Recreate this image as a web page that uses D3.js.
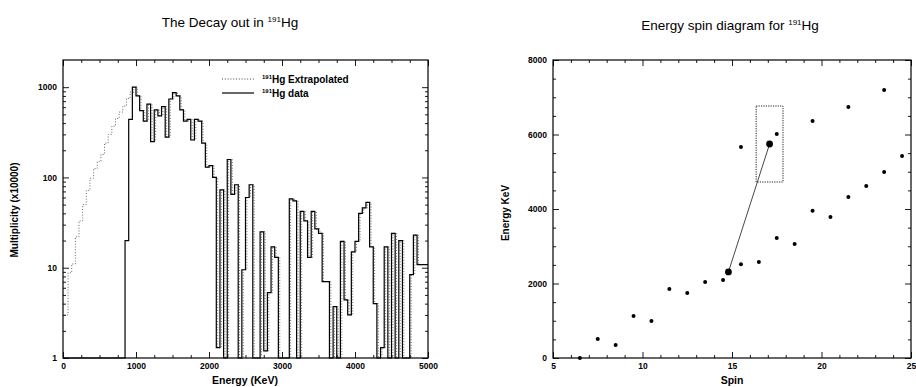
<!DOCTYPE html>
<html>
<head>
<meta charset="utf-8">
<script src="https://cdn.jsdelivr.net/npm/d3@7"></script>
<style>
  body { margin: 0; background: #fff; }
  svg { display: block; }
  .tick text { font-family: "Liberation Sans", Arial, sans-serif; font-size: 8.5px; font-weight: bold; fill: #000; }
  .tick line { stroke: #000; stroke-width: 0.9; }
  .title { font-family: "Liberation Sans", Arial, sans-serif; font-size: 13.5px; fill: #000; }
  .label { font-family: "Liberation Sans", Arial, sans-serif; font-size: 10px; font-weight: bold; fill: #000; }
</style>
</head>
<body>
<svg id="chart" width="916" height="387"></svg>
<script>
// ---- left panel data: decay-out histogram, 50 keV bins starting at 0 ----
const binWidth = 50;
const dataCounts = [
  0, 0, 0, 0, 0, 0, 0, 0, 0, 0, 0, 0, 0, 0, 0, 0, 0,
  20, 440, 1000, 800, 550, 420, 650, 250, 560, 480, 610, 280, 740,
  870, 800, 560, 420, 440, 260, 440, 420, 240, 130, 135, 100, 1.3,
  73, 1, 158, 65, 83, 1, 9.5, 60, 83, 1, 1, 25, 1.2, 5.3, 17, 13,
  1, 1, 1, 58, 55, 1, 42, 33, 13, 42, 27, 24, 7, 7, 1, 3.7, 1,
  19.6, 4.4, 3, 15, 19.6, 40, 46, 53, 17, 4, 1, 1.3, 17, 1, 24,
  1, 20, 1, 1, 8.4, 23, 10.8, 10.8, 10.8
];
// extrapolated part below 1000 keV (joins the data afterwards)
const extrapolatedLow = [
  3, 8.8, 11, 22, 33, 50, 72, 98, 125, 150, 180, 240, 300, 370, 450,
  530, 620, 750, 880
];
const multTicks = [1, 10, 100, 1000];
const energyTicks = [0, 1000, 2000, 3000, 4000, 5000];

// ---- right panel data: energy vs spin ----
const spins = [6.5, 7.5, 8.5, 9.5, 10.5, 11.5, 12.5, 13.5, 14.5, 15.5, 16.5, 17.5, 18.5,
  15.5, 17.5, 19.5, 21.5, 23.5, 19.5, 20.5, 21.5, 22.5, 23.5, 24.5];
const levelEnergies = [0, 510, 350, 1130, 990, 1850, 1745, 2040, 2095, 2520, 2580, 3220, 3060,
  5665, 6013, 6360, 6740, 7195, 3950, 3785, 4320, 4620, 4990, 5420];
const decaySpins = [14.8, 17.1];
const decayEnergies = [2310, 5745];
const boxSpins = [16.35, 17.85];
const boxEnergies = [4725, 6765];
const spinTicks = [5, 10, 15, 20, 25];
const keVTicks = [0, 2000, 4000, 6000, 8000];

const svg = d3.select('#chart');

function superTitle(g, x, y, pre, cls, size) {
  const t = g.append('text').attr('class', cls).attr('x', x).attr('y', y)
    .attr('text-anchor', 'middle');
  t.append('tspan').text(pre);
  t.append('tspan').attr('font-size', size).attr('dy', -5).text('191');
  t.append('tspan').attr('dy', 5).text('Hg');
  return t;
}

// ================= left panel =================
const xL = d3.scaleLinear().domain([0, 5000]).range([63, 428]);
const yL = d3.scaleLog().domain([1, 2000]).range([358, 60]);

const left = svg.append('g');
superTitle(left, 230, 27, 'The Decay out in ', 'title', 8);

// minor ticks
const minorLog = [];
for (let d = 1; d < 2000; d *= 10) for (let k = 2; k <= 9; k++) if (d * k < 2000) minorLog.push(d * k);
const minorE = d3.range(0, 5001, 250).filter(v => v % 1000 !== 0);

left.append('g').attr('transform', 'translate(0,358)')
  .call(d3.axisBottom(xL).tickValues(energyTicks).tickSize(-6).tickPadding(5).tickFormat(d3.format('d')));
left.append('g').attr('transform', 'translate(0,358)')
  .call(d3.axisBottom(xL).tickValues(minorE).tickSize(-3).tickFormat(''));
left.append('g').attr('transform', 'translate(0,60)')
  .call(d3.axisTop(xL).tickValues(energyTicks).tickSize(-6).tickFormat(''));
left.append('g').attr('transform', 'translate(0,60)')
  .call(d3.axisTop(xL).tickValues(minorE).tickSize(-3).tickFormat(''));
left.append('g').attr('transform', 'translate(63,0)')
  .call(d3.axisLeft(yL).tickValues(multTicks).tickSize(-6).tickPadding(6).tickFormat(d3.format('d')));
left.append('g').attr('transform', 'translate(63,0)')
  .call(d3.axisLeft(yL).tickValues(minorLog).tickSize(-3).tickFormat(''));
left.append('g').attr('transform', 'translate(428,0)')
  .call(d3.axisRight(yL).tickValues(multTicks).tickSize(-6).tickFormat(''));
left.append('g').attr('transform', 'translate(428,0)')
  .call(d3.axisRight(yL).tickValues(minorLog).tickSize(-3).tickFormat(''));
left.selectAll('.domain').remove();

left.append('rect').attr('x', 63).attr('y', 60).attr('width', 365).attr('height', 298)
  .attr('fill', 'none').attr('stroke', '#000').attr('stroke-width', 1.2);

function stepPoints(vals) {
  const pts = vals.map((v, i) => [i * binWidth, Math.max(v, 1)]);
  pts.push([vals.length * binWidth, Math.max(vals[vals.length - 1], 1)]);
  return pts;
}
const stepLine = d3.line()
  .x(d => xL(d[0])).y(d => yL(d[1]))
  .curve(d3.curveStepAfter);

const extrapolated = extrapolatedLow.concat(dataCounts.slice(extrapolatedLow.length));
left.append('path').attr('d', stepLine(stepPoints(extrapolated)))
  .attr('transform', 'translate(1.4,0)')
  .attr('fill', 'none').attr('stroke', '#666').attr('stroke-width', 1)
  .attr('stroke-dasharray', '1,1.8');
left.append('path').attr('d', stepLine(stepPoints(dataCounts)))
  .attr('fill', 'none').attr('stroke', '#000').attr('stroke-width', 1.2);

// legend
const leg = left.append('g');
leg.append('line').attr('x1', 222).attr('x2', 254).attr('y1', 79).attr('y2', 79)
  .attr('stroke', '#444').attr('stroke-width', 1).attr('stroke-dasharray', '1,1.8');
leg.append('line').attr('x1', 222).attr('x2', 254).attr('y1', 93).attr('y2', 93)
  .attr('stroke', '#000').attr('stroke-width', 1.2);
[['Extrapolated', 83], ['data', 97]].forEach(([txt, y]) => {
  const t = leg.append('text').attr('class', 'label').attr('x', 262).attr('y', y);
  t.append('tspan').attr('font-size', 6).attr('dy', -4).text('191');
  t.append('tspan').attr('dy', 4).text('Hg ' + txt);
});

left.append('text').attr('class', 'label').attr('x', 245).attr('y', 384)
  .attr('text-anchor', 'middle').style('font-size', '10.5px').text('Energy (KeV)');
left.append('text').attr('class', 'label')
  .attr('transform', 'translate(18,210) rotate(-90)')
  .attr('text-anchor', 'middle').text('Multiplicity (x10000)');

// ================= right panel =================
const xR = d3.scaleLinear().domain([5, 25]).range([553, 911]);
const yR = d3.scaleLinear().domain([0, 8000]).range([358, 60]);

const right = svg.append('g');
superTitle(right, 730, 30, 'Energy spin diagram for ', 'title', 8);

const minorSpin = d3.range(5, 25.01, 1).filter(v => v % 5 !== 0);
const minorKeV = d3.range(0, 8001, 500).filter(v => v % 2000 !== 0);

right.append('g').attr('transform', 'translate(0,358)')
  .call(d3.axisBottom(xR).tickValues(spinTicks).tickSize(-6).tickPadding(5).tickFormat(d3.format('d')));
right.append('g').attr('transform', 'translate(0,358)')
  .call(d3.axisBottom(xR).tickValues(minorSpin).tickSize(-3).tickFormat(''));
right.append('g').attr('transform', 'translate(0,60)')
  .call(d3.axisTop(xR).tickValues(spinTicks).tickSize(-6).tickFormat(''));
right.append('g').attr('transform', 'translate(0,60)')
  .call(d3.axisTop(xR).tickValues(minorSpin).tickSize(-3).tickFormat(''));
right.append('g').attr('transform', 'translate(553,0)')
  .call(d3.axisLeft(yR).tickValues(keVTicks).tickSize(-6).tickPadding(6).tickFormat(d3.format('d')));
right.append('g').attr('transform', 'translate(553,0)')
  .call(d3.axisLeft(yR).tickValues(minorKeV).tickSize(-3).tickFormat(''));
right.append('g').attr('transform', 'translate(911,0)')
  .call(d3.axisRight(yR).tickValues(keVTicks).tickSize(-6).tickFormat(''));
right.append('g').attr('transform', 'translate(911,0)')
  .call(d3.axisRight(yR).tickValues(minorKeV).tickSize(-3).tickFormat(''));
right.selectAll('.domain').remove();

right.append('rect').attr('x', 553).attr('y', 60).attr('width', 358).attr('height', 298)
  .attr('fill', 'none').attr('stroke', '#000').attr('stroke-width', 1.2);

// selection box
right.append('rect')
  .attr('x', xR(boxSpins[0])).attr('y', yR(boxEnergies[1]))
  .attr('width', xR(boxSpins[1]) - xR(boxSpins[0]))
  .attr('height', yR(boxEnergies[0]) - yR(boxEnergies[1]))
  .attr('fill', 'none').attr('stroke', '#222').attr('stroke-width', 1)
  .attr('stroke-dasharray', '1.2,1.2');

// decay path line
right.append('line')
  .attr('x1', xR(decaySpins[0])).attr('y1', yR(decayEnergies[0]))
  .attr('x2', xR(decaySpins[1])).attr('y2', yR(decayEnergies[1]))
  .attr('stroke', '#333').attr('stroke-width', 0.9);

right.append('g').selectAll('circle')
  .data(spins.map((s, i) => [s, levelEnergies[i]]))
  .join('circle')
  .attr('cx', d => xR(d[0])).attr('cy', d => yR(d[1])).attr('r', 2)
  .attr('fill', '#000');
right.append('g').selectAll('circle')
  .data(decaySpins.map((s, i) => [s, decayEnergies[i]]))
  .join('circle')
  .attr('cx', d => xR(d[0])).attr('cy', d => yR(d[1])).attr('r', 3.4)
  .attr('fill', '#000');

right.append('text').attr('class', 'label').attr('x', 732).attr('y', 384)
  .attr('text-anchor', 'middle').style('font-size', '10.5px').text('Spin');
right.append('text').attr('class', 'label')
  .attr('transform', 'translate(509,213) rotate(-90)')
  .attr('text-anchor', 'middle').text('Energy KeV');
</script>
</body>
</html>
